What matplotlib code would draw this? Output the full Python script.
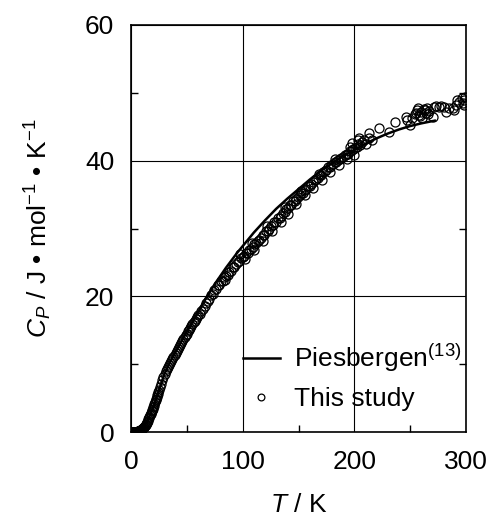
import numpy as np
import matplotlib.pyplot as plt
from matplotlib.ticker import MultipleLocator

# Piesbergen reference curve
T_ref = [0, 5, 10, 15, 20, 25, 30, 35, 40, 45, 50, 55, 60, 65, 70, 75, 80, 85, 90,
         95, 100, 110, 120, 130, 140, 150, 160, 170, 180, 190, 200, 210, 220, 230,
         240, 250, 260, 272]
Cp_ref = [0.0, 0.05, 0.45, 1.7, 3.7, 6.1, 8.6, 10.3, 11.8, 13.3, 14.8, 16.2, 17.6,
          19.1, 20.5, 21.8, 23.0, 24.2, 25.3, 26.4, 27.4, 29.4, 31.2, 32.9, 34.4,
          35.8, 37.2, 38.5, 39.6, 40.7, 41.6, 42.5, 43.3, 44.0, 44.6, 45.1, 45.5, 45.9]

# This study
T_low = [0.5, 1, 1.5, 2, 2.5, 3, 3.5, 4, 4.5, 5, 5.5, 6, 6.5, 7, 7.5, 8, 8.5, 9, 9.5,
         10, 10.5, 11, 11.5, 12, 12.5, 13, 13.5, 14, 14.5, 15, 15.5, 16, 16.5, 17,
         17.5, 18, 18.5, 19, 19.5, 20, 20.5, 21, 21.5, 22, 22.5, 23, 23.5, 24, 24.5,
         25, 26, 27, 28, 29, 30]
Cp_low = [0.0, 0.0, 0.0, 0.0, 0.01, 0.01, 0.02, 0.03, 0.04, 0.05, 0.07, 0.09, 0.12,
          0.15, 0.18, 0.22, 0.27, 0.32, 0.38, 0.45, 0.52, 0.6, 0.7, 0.8, 0.92, 1.05,
          1.2, 1.35, 1.5, 1.68, 1.86, 2.05, 2.25, 2.45, 2.65, 2.85, 3.05, 3.25, 3.45,
          3.7, 3.9, 4.15, 4.4, 4.65, 4.9, 5.15, 5.4, 5.65, 5.9, 6.15, 6.6, 7.1, 7.6,
          8.1, 8.6]

T_mid = [31, 32, 33, 34, 35, 36, 37, 38, 39, 40, 41, 42, 43, 44, 45, 46, 47, 48, 49,
         50, 51, 52, 53, 54, 55, 56, 57, 58, 59, 60, 61.5, 63, 64.5, 66, 67.5, 69]
Cp_mid = [8.95, 9.3, 9.55, 9.9, 10.15, 10.5, 10.75, 11.1, 11.3, 11.65, 11.9, 12.25,
          12.5, 12.8, 13.15, 13.35, 13.7, 13.95, 14.3, 14.5, 14.85, 15.05, 15.35,
          15.6, 15.85, 16.2, 16.4, 16.7, 16.95, 17.2, 17.45, 17.9, 18.2, 18.6, 18.95,
          19.3]

T_band = [70, 71.5, 73, 74.5, 76, 77.5, 79, 80.5, 82, 83.5, 85, 86.5, 88, 89.5, 91,
          92.5, 94, 95.5, 97, 98.5, 100, 101.5, 103, 104.5, 106, 107.5, 109, 110.5,
          112, 113.5, 115, 116.5, 118, 119.5, 121, 122.5, 124, 125.5, 127, 128.5,
          130, 131.5, 133, 134.5, 136, 137.5, 139, 140.5, 142, 143.5, 145, 146.5,
          148, 149.5, 151, 152.5, 154, 155.5, 157, 158.5, 160, 161.5, 163, 164.5,
          166, 167.5, 169, 170.5, 172, 173.5, 175, 176.5, 178, 179.5, 181, 182.5,
          184, 185.5, 187, 188.5, 190, 191.5, 193, 194.5, 196, 197.5, 199, 200.5,
          202, 203.5, 205, 207, 209]
Cp_band = [19.6, 20.2, 20.4, 20.9, 21.1, 21.6, 21.7, 22.2, 22.3, 22.8, 23.0, 23.1,
           23.6, 23.7, 24.3, 24.3, 24.8, 25.0, 25.2, 25.6, 25.8, 26.0, 26.4, 26.4,
           26.9, 27.0, 27.3, 27.7, 27.8, 28.2, 28.3, 28.6, 29.0, 29.0, 29.6, 29.7,
           30.0, 30.4, 30.5, 30.9, 31.0, 31.5, 31.6, 31.8, 32.3, 32.4, 32.9, 33.0,
           33.4, 33.4, 34.0, 34.1, 34.4, 34.7, 34.9, 35.2, 35.3, 35.7, 35.8, 36.2,
           36.3, 36.6, 36.8, 37.2, 37.3, 37.4, 37.9, 37.9, 38.3, 38.5, 38.6, 39.0,
           39.0, 39.4, 39.5, 39.8, 39.8, 40.1, 40.3, 40.4, 40.6, 40.8, 41.0, 41.0,
           41.4, 41.5, 41.7, 41.9, 42.0, 42.4, 42.3, 42.8, 43.0]

T_edge = [102, 110, 118, 126, 134, 141, 148, 156, 163, 171, 178, 186, 193, 200,
          84, 98, 108, 122, 138, 152, 168, 183, 196, 203, 198]
Cp_edge = [25.5, 26.9, 28.2, 29.7, 31.0, 32.2, 33.6, 34.9, 35.9, 37.1, 38.3, 39.4,
           40.2, 40.9, 22.4, 26.2, 27.8, 30.3, 33.2, 35.6, 38.1, 40.3, 42.0, 43.0,
           42.6]

T_high = [204, 213, 213, 210, 216, 222, 231, 236, 246, 247, 250, 252, 254, 256,
          258, 260, 261, 262, 264, 265, 267, 270, 271, 273, 276, 278, 280, 282,
          285, 288, 289, 291, 292, 294, 296, 297, 298, 298, 299, 255, 257, 259,
          263, 266]
Cp_high = [43.3, 44.1, 43.3, 42.5, 43.0, 44.8, 44.2, 45.7, 46.4, 46.0, 45.3, 46.3,
           46.9, 47.5, 46.8, 47.2, 46.3, 47.6, 47.0, 47.8, 47.3, 46.4, 47.9, 48.1,
           47.9, 48.0, 47.9, 47.2, 47.8, 47.8, 47.4, 48.2, 49.0, 48.7, 49.2, 48.5,
           49.0, 48.2, 49.4, 47.0, 47.7, 46.6, 47.4, 46.9]

T_study = T_low + T_mid + T_band + T_edge + T_high
Cp_study = Cp_low + Cp_mid + Cp_band + Cp_edge + Cp_high

plt.rcParams['font.family'] = ['Liberation Sans', 'DejaVu Sans']
plt.rcParams['mathtext.fontset'] = 'custom'
plt.rcParams['mathtext.rm'] = 'Liberation Sans'
plt.rcParams['mathtext.it'] = 'Liberation Sans:italic'

fs = 19

fig = plt.figure(figsize=(4.88, 5.18), dpi=100)
ax = fig.add_axes([131 / 488, 1 - 432 / 518, 335 / 488, 407 / 518])

ax.plot(T_ref, Cp_ref, color='black', lw=1.8, label='Piesbergen$^{(13)}$', zorder=3)
ax.plot(T_study, Cp_study, 'o', mfc='none', mec='black', ms=6.5, mew=0.9,
        label='This study', zorder=2)

ax.set_xlim(0, 300)
ax.set_ylim(0, 60)
ax.set_xticks([0, 100, 200, 300])
ax.set_yticks([0, 20, 40, 60])
ax.xaxis.set_minor_locator(MultipleLocator(50))
ax.yaxis.set_minor_locator(MultipleLocator(10))
ax.tick_params(which='both', direction='in', labelsize=fs)
ax.tick_params(which='major', length=0)
ax.tick_params(which='minor', length=5, width=1, right=True)
ax.xaxis.set_tick_params(pad=13)
ax.yaxis.set_tick_params(pad=12)
ax.grid(True, which='major', color='black', lw=0.8)
for s in ax.spines.values():
    s.set_linewidth(1.2)

ax.set_xlabel('$T$ / K', fontsize=fs, labelpad=14)
ax.set_ylabel('$C_P$ / J • mol$^{-1}$ • K$^{-1}$', fontsize=fs, labelpad=22)

ax.legend(loc='upper left', bbox_to_anchor=(0.334, 0.222), frameon=False,
          fontsize=fs, handlelength=1.4, handletextpad=0.55, labelspacing=0.5,
          borderaxespad=0, borderpad=0, markerscale=0.75)

plt.savefig('out.png', dpi=100)
